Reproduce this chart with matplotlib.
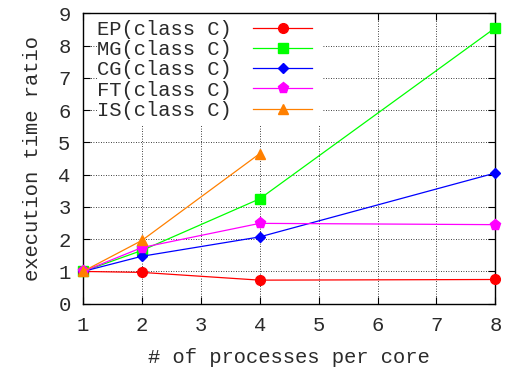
import matplotlib
matplotlib.use('Agg')
import matplotlib.pyplot as plt
from matplotlib.patches import Rectangle

# execution time ratio vs processes per core (NPB class C)
procs = [1, 2, 4, 8]
ep = [1.0, 0.97, 0.73, 0.75]
mg = [1.0, 1.65, 3.25, 8.55]
cg = [1.0, 1.47, 2.07, 4.05]
ft = [1.0, 1.74, 2.49, 2.45]
is_procs = [1, 2, 4]
is_ = [1.0, 1.96, 4.65]

plt.rcParams['font.family'] = ['Liberation Mono', 'DejaVu Sans Mono']
plt.rcParams['font.size'] = 14.8
plt.rcParams['text.color'] = '#2a2a2a'
plt.rcParams['xtick.labelcolor'] = '#2a2a2a'
plt.rcParams['ytick.labelcolor'] = '#2a2a2a'
plt.rcParams['axes.labelcolor'] = '#2a2a2a'

fig = plt.figure(figsize=(5.13, 3.73), dpi=100)
ax = fig.add_axes([0.1618, 0.1858, 0.8037, 0.7785])

ax.plot(procs, ep, color='#ff0000', marker='o', ms=7, lw=0.9, label='EP(class C)', clip_on=False, zorder=5)
ax.plot(procs, mg, color='#00ff00', marker='s', ms=7, lw=0.9, label='MG(class C)', clip_on=False, zorder=4)
ax.plot(procs, cg, color='#0000ff', marker='D', ms=5, lw=0.9, label='CG(class C)', clip_on=False, zorder=5)
ax.plot(procs, ft, color='#ff00ff', marker='p', ms=8, lw=0.9, label='FT(class C)', clip_on=False, zorder=5)
ax.plot(is_procs, is_, color='#ff8000', marker='^', ms=7, lw=0.9, label='IS(class C)', clip_on=False, zorder=6)

ax.set_xlim(1, 8)
ax.set_ylim(0, 9)
ax.set_xticks(range(1, 9))
ax.set_yticks(range(0, 10))
ax.grid(True, color='black', linestyle=(0, (1, 2)), linewidth=0.6)
ax.tick_params(direction='in', top=True, right=True, length=5, width=0.8, pad=9)
for s in ax.spines.values():
    s.set_linewidth(1.0)

ax.set_xlabel('# of processes per core', labelpad=9)
ax.set_ylabel('execution time ratio', labelpad=12)

# opaque key area hides the grid behind it
ax.add_patch(Rectangle((0.035, 0.615), 0.545, 0.385, transform=ax.transAxes,
                       facecolor='white', edgecolor='none', zorder=1.8))

ax.legend(loc='upper left', bbox_to_anchor=(0.005, 1.02), frameon=False, markerfirst=False,
          handlelength=2.9, labelspacing=0.06, borderaxespad=0.2, handletextpad=1.0)

fig.savefig('out.png', dpi=100)
